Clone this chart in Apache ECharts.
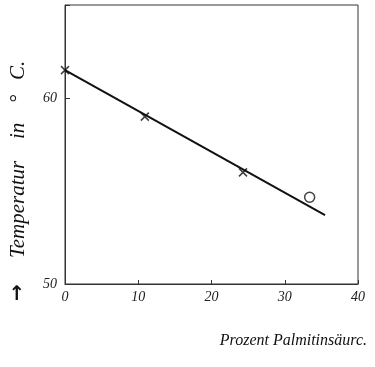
<!DOCTYPE html>
<html><head><meta charset="utf-8">
<script src="https://cdn.jsdelivr.net/npm/echarts@6/dist/echarts.min.js"></script>
<style>html,body{margin:0;padding:0;background:#fff}#c{width:375px;height:367px}</style>
</head><body><div id="c"></div>
<script>
var crossX = [0, 10.9, 24.3];
var crossY = [61.5, 59.0, 56.0];
var circleX = [33.4];
var circleY = [54.5];
var lineX = [0, 35.5];
var lineY = [61.5, 53.7];
var xTicks = [0, 10, 20, 30, 40];
var yTicks = [50, 60];
var xTitle = 'Prozent Palmitinsäurc.';
var yTitleWords = ['Temperatur', 'in', '°', 'C.'];
var yArrow = '→';

function zip(a, b) { return a.map(function (v, i) { return [v, b[i]]; }); }
var font = '"Liberation Serif", "DejaVu Serif", serif';
var wordPos = [258, 139, 103, 80];
var titleGraphics = yTitleWords.map(function (w, i) {
  return { type: 'text', x: 18, y: wordPos[i], rotation: Math.PI / 2,
    style: { text: w, font: 'italic 21px ' + font, fill: '#111', verticalAlign: 'middle', align: 'left' } };
});
var chart = echarts.init(document.getElementById('c'));
chart.setOption({
  animation: false,
  backgroundColor: '#fff',
  grid: { left: 65, right: 17, top: 5, bottom: 83, show: true, borderColor: '#333', borderWidth: 1 },
  xAxis: {
    type: 'value', min: 0, max: 40, interval: 10,
    axisLine: { show: true, lineStyle: { color: '#333', width: 1 } },
    axisTick: { show: true, inside: true, length: 4, lineStyle: { color: '#333' } },
    splitLine: { show: false },
    axisLabel: { fontFamily: font, fontStyle: 'italic', fontSize: 14, color: '#222', margin: 6,
      formatter: function (v) { return xTicks.indexOf(v) >= 0 ? String(v) : ''; } }
  },
  yAxis: {
    type: 'value', min: 50, max: 65, interval: 10,
    axisLine: { show: true, lineStyle: { color: '#333', width: 1 } },
    axisTick: { show: true, inside: true, length: 5, lineStyle: { color: '#333' } },
    splitLine: { show: false },
    axisLabel: { fontFamily: font, fontStyle: 'italic', fontSize: 14, color: '#222', margin: 8,
      formatter: function (v) { return yTicks.indexOf(v) >= 0 ? String(v) : ''; } }
  },
  graphic: [
    { type: 'text', right: 8, top: 333, style: { text: xTitle, font: 'italic 16px ' + font, fill: '#111' } },
    { type: 'text', x: 18, y: 301, rotation: Math.PI / 2, style: { text: yArrow, font: 'bold 20px "DejaVu Sans", sans-serif', fill: '#111', verticalAlign: 'middle', align: 'left' } }
  ].concat(titleGraphics),
  series: [
    { type: 'line', data: zip(lineX, lineY), symbol: 'none', lineStyle: { color: '#111', width: 2 }, silent: true },
    { type: 'scatter', data: zip(crossX, crossY), symbol: 'path://M0,0L10,10M10,0L0,10', symbolSize: 8,
      itemStyle: { color: 'transparent', borderColor: '#111', borderWidth: 1.5 } },
    { type: 'scatter', data: zip(circleX, circleY), symbol: 'circle', symbolSize: 10, symbolOffset: [0, -3],
      itemStyle: { color: '#fff', borderColor: '#111', borderWidth: 1.5 } }
  ]
});
</script></body></html>
